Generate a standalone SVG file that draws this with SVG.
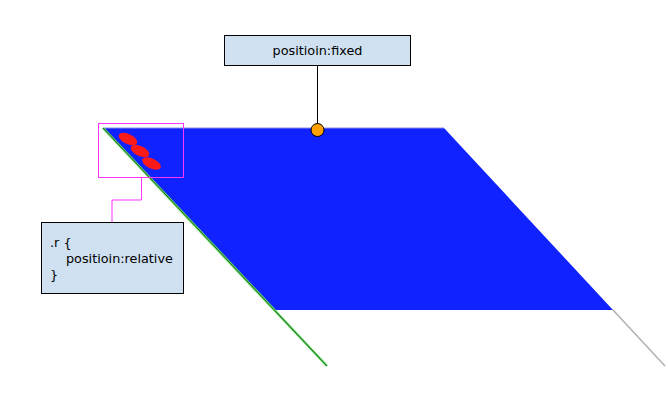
<svg xmlns="http://www.w3.org/2000/svg" width="668" height="402" viewBox="0 0 668 402">
<style>
.lbl{fill:#cfe0f1;stroke:#000;stroke-width:1}
.t{font-family:"Comic Sans MS","DejaVu Sans",sans-serif;font-size:12.8px;fill:#000}
.dot{fill:#ff1a1a}
</style>
<rect width="668" height="402" fill="#fff"/>
<g id="plane">
<polygon points="103,128 444,128 613,310 275,310" fill="#0f22ff"/>
<line x1="103" y1="128" x2="444" y2="128" stroke="#8c8ce0" stroke-width="1"/>
<line x1="613" y1="310" x2="665" y2="366" stroke="#b0b0b0" stroke-width="1.5"/>
<line x1="103" y1="128" x2="327" y2="366" stroke="#5fe05f" stroke-width="2.5"/>
<line x1="103" y1="128" x2="327" y2="366" stroke="#2a5a2a" stroke-width="1"/>
</g>
<g id="dots">
<ellipse class="dot" cx="128" cy="139" rx="10" ry="5" transform="rotate(25 128 139)"/>
<ellipse class="dot" cx="140" cy="151" rx="10" ry="5" transform="rotate(25 140 151)"/>
<ellipse class="dot" cx="151.5" cy="163.5" rx="10" ry="5" transform="rotate(25 151.5 163.5)"/>
</g>
<g id="connectors" fill="none">
<polyline points="141.5,177.5 141.5,200 112,200 112,222" stroke="#ff33ff" stroke-width="1"/>
<line x1="317.5" y1="65" x2="317.5" y2="124" stroke="#000" stroke-width="1"/>
</g>
<g id="highlight">
<rect x="98.5" y="123.5" width="85" height="54" fill="none" stroke="#ff33ff" stroke-width="1"/>
</g>
<g id="fixed">
<rect class="lbl" x="224.5" y="35.5" width="186" height="30"/>
<text class="t" x="317.5" y="55" text-anchor="middle">positioin:fixed</text>
</g>
<g id="anchor">
<circle cx="317.5" cy="130" r="6.5" fill="#ff9f00" stroke="#000" stroke-width="1"/>
</g>
<g id="relative">
<rect class="lbl" x="41.5" y="222.5" width="142" height="71"/>
<text class="t" x="50" y="247">.r {</text>
<text class="t" x="66" y="263">positioin:relative</text>
<text class="t" x="50" y="279">}</text>
</g>
</svg>
